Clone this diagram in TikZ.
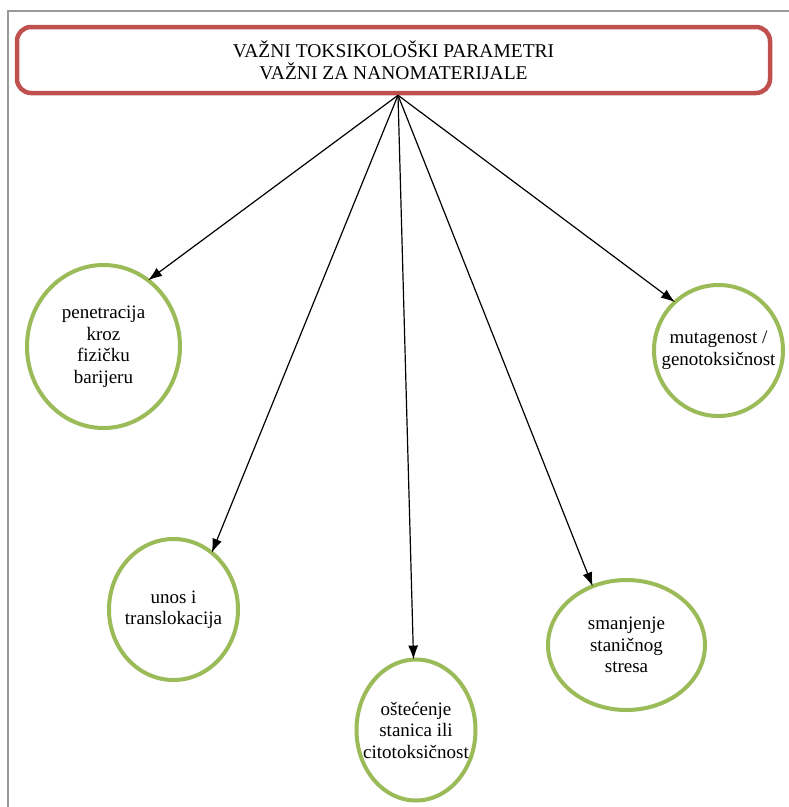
\documentclass[tikz,border=0pt]{standalone}
\usepackage{fontspec}
\setmainfont{Liberation Serif}
\usepackage{xcolor}
\usepackage{tikz}
\usetikzlibrary{shapes.geometric,arrows.meta}
\definecolor{titlered}{HTML}{C0504D}
\definecolor{bubgreen}{HTML}{9BBB59}
\tikzstyle{headbox} = [rectangle, rounded corners=14pt, minimum width=753pt, minimum height=66pt, draw=titlered, line width=4.5pt, align=center, font=\rmfamily\fontsize{19.5}{22}\selectfont]
\tikzstyle{bubble} = [ellipse, inner sep=0pt, outer sep=0pt, draw=bubgreen, line width=4pt]
\tikzstyle{bubtext} = [align=center, font=\rmfamily\fontsize{19}{21.5}\selectfont]
\tikzstyle{arrow} = [line width=1.2pt, -{Latex[length=14pt, width=10pt]}]

\begin{document}
\begin{tikzpicture}[x=1pt, y=-1pt]
	\useasboundingbox (0,0) rectangle (789,807);
	\draw [gray!80, line width=1.3pt] (8,807) -- (8,11) -- (789,11);
	\node (title) [headbox] at (393.5,60) {VAŽNI TOKSIKOLOŠKI PARAMETRI\\VAŽNI ZA NANOMATERIJALE};
	\coordinate (hub) at ([xshift=4.5pt]title.south);
	\node (pen) [bubble, minimum width=153pt, minimum height=163pt, label={[bubtext]center:penetracija\\kroz\\fizičku\\barijeru}] at (103.5,346.5) {};
	\node (unos) [bubble, minimum width=129pt, minimum height=141pt, label={[bubtext]center:unos i\\translokacija}] at (173.5,609.5) {};
	\node (cito) [bubble, minimum width=119pt, minimum height=141pt, label={[bubtext]center:oštećenje\\stanica ili\\citotoksičnost}] at (416,730) {};
	\node (stres) [bubble, minimum width=157pt, minimum height=130pt, label={[bubtext]center:smanjenje\\staničnog\\stresa}] at (626.5,645) {};
	\node (muta) [bubble, minimum width=129pt, minimum height=131pt, label={[bubtext]center:mutagenost /\\genotoksičnost}] at (718.5,350.5) {};
	\draw [arrow] (hub) -- (pen.56);
	\draw [arrow] (hub) -- (unos.56);
	\draw [arrow] (hub) -- (cito.92);
	\draw [arrow] (hub) -- (stres.120);
	\draw [arrow] (hub) -- (muta.132);
\end{tikzpicture}
\end{document}
